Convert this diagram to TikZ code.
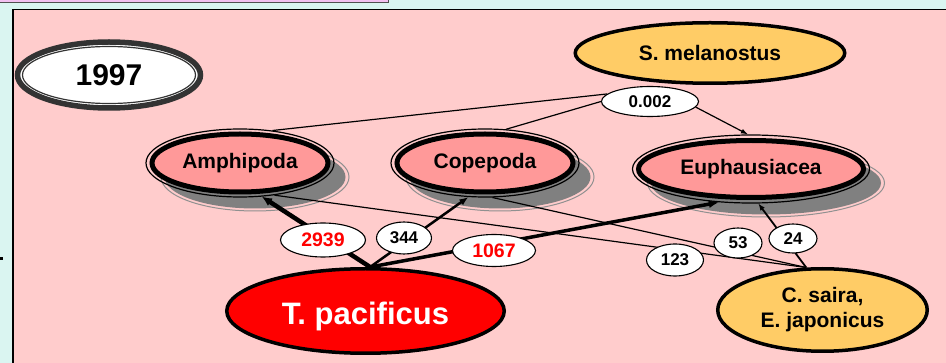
\documentclass[tikz,border=0pt]{standalone}
\usepackage{fontspec}
\setmainfont{Liberation Sans}
\usetikzlibrary{shapes.geometric,arrows.meta}
\definecolor{bgcyan}{HTML}{DAF5F1}
\definecolor{panelpink}{HTML}{FFCCCC}
\definecolor{crust}{HTML}{FF9999}
\definecolor{fishyel}{HTML}{FFCC66}
\definecolor{shadowgray}{HTML}{808080}
\definecolor{shadowline}{HTML}{909090}
\definecolor{barviolet}{HTML}{F2C0F0}
\definecolor{bardark}{HTML}{505050}
\definecolor{yeargray}{HTML}{333333}
\begin{document}
\begin{tikzpicture}[x=1pt,y=-1pt,
  crustacean/.style={ellipse, draw=black, line width=5pt, fill=crust, inner sep=0pt,
    font=\fontsize{21}{25}\selectfont\bfseries},
  ringline/.style={ellipse, draw=black, line width=1.2pt, inner sep=0pt},
  shadowfill/.style={ellipse, fill=shadowgray, inner sep=0pt, xshift=15pt, yshift=-14pt},
  shadowring/.style={ellipse, draw=shadowline, line width=1pt, inner sep=0pt, xshift=15pt, yshift=-14pt},
  fish/.style={ellipse, draw=black, line width=3.5pt, fill=fishyel, inner sep=0pt,
    font=\fontsize{21}{25}\selectfont\bfseries},
  squid/.style={ellipse, draw=black, line width=3.5pt, fill=red, text=white, inner sep=0pt,
    text height=28pt, text depth=0pt,
    font=\fontsize{31}{36}\selectfont\bfseries},
  yearbox/.style={ellipse, draw=yeargray, line width=5.5pt, fill=white, inner sep=0pt,
    font=\fontsize{30}{34}\selectfont\bfseries},
  flowlabel/.style={ellipse, draw=black, line width=1.1pt, fill=white, inner sep=0pt,
    font=\fontsize{17}{20}\selectfont\bfseries},
  biglabel/.style={flowlabel, text=red, font=\fontsize{19.5}{22}\selectfont\bfseries},
  link/.style={line width=1.2pt},
]
\useasboundingbox (0,0) rectangle (946,363);
\clip (0,0) rectangle (946,363);
\fill[bgcyan] (0,0) rectangle (946,363);
\filldraw[fill=barviolet, draw=bardark, line width=1pt] (-5,-5) rectangle (388.5,2.5);
\filldraw[fill=panelpink, draw=black, line width=1.3pt] (13,9.5) rectangle (960,380);
\fill[black] (0,257) rectangle (2.5,260.5);

\coordinate (amphC) at (240,163);
\coordinate (copC) at (485,163);
\coordinate (euphC) at (751,169);

% shadows
\node[shadowring, minimum width=188, minimum height=68] (amphS) at (amphC) {};
\node[shadowfill, minimum width=181, minimum height=63] (amphSF) at (amphC) {};
\node[shadowring, minimum width=188, minimum height=68] (copS) at (copC) {};
\node[shadowfill, minimum width=181, minimum height=63] (copSF) at (copC) {};
\node[shadowring, minimum width=237, minimum height=68] (euphS) at (euphC) {};
\node[shadowfill, minimum width=230, minimum height=63] (euphSF) at (euphC) {};

% crustacean nodes
\node[crustacean, minimum width=176, minimum height=58] (amph) at (amphC) {Amphipoda};
\node[ringline, minimum width=188, minimum height=68] (amphR) at (amphC) {};
\node[crustacean, minimum width=176, minimum height=58] (cop) at (copC) {Copepoda};
\node[ringline, minimum width=188, minimum height=68] (copR) at (copC) {};
\node[crustacean, minimum width=225, minimum height=57] (euph) at (euphC) {Euphausiacea};
\node[ringline, minimum width=237, minimum height=68] (euphR) at (euphC) {};

% year
\node[yearbox, minimum width=183, minimum height=66] (yr) at (109,75) {1997};
\node[ellipse, draw=yeargray, line width=1.2pt, inner sep=0pt, minimum width=173, minimum height=57] (yrR) at (yr) {};

% fish / squid
\node[fish, minimum width=269.5, minimum height=60.5] (smel) at (710,53) {S. melanostus};
\node[squid, minimum width=277.5, minimum height=84.5] (tp) at (365.5,311) {T. pacificus};
\node[fish, align=center, minimum width=209.5, minimum height=82.5] (cs) at (822.5,310) {C. saira,\\E. japonicus};

\node[flowlabel, minimum width=97, minimum height=30] (l002) at (650,101.5) {0.002};

% connectors
\draw[link] (l002.170) -- (amphR.45);
\draw[link] (l002.west) -- (copR.58);
\draw[link, -{Latex[length=7pt,width=5pt]}] (l002.-7) -- (euphR.95);
\draw[line width=4.5pt, -{Latex[length=10pt,width=9pt]}] (tp.84) -- (amphR.-57);
\draw[line width=2.5pt, -{Latex[length=9pt,width=7pt]}] (tp.84) -- (copR.-116);
\draw[line width=3.5pt, -{Latex[length=10pt,width=8pt]}] (tp.84) -- (euphR.-134);
\draw[line width=1.8pt, -{Latex[length=7pt,width=5.5pt]}] (cs.111) -- (euphR.-78);
\draw[link] (cs.111) -- (copR.-78);
\draw[link] (cs.111) -- (amphR.-43);

% flow labels
\node[biglabel, minimum width=85, minimum height=34] (l2939) at (323,240) {2939};
\node[flowlabel, minimum width=55, minimum height=32] (l344) at (404,238) {344};
\node[biglabel, minimum width=83, minimum height=32] (l1067) at (494,250.5) {1067};
\node[flowlabel, minimum width=57, minimum height=32] (l123) at (675,260) {123};
\node[flowlabel, minimum width=48, minimum height=30] (l53) at (738,243) {53};
\node[flowlabel, minimum width=48, minimum height=29] (l24) at (793,238.5) {24};
\end{tikzpicture}
\end{document}
